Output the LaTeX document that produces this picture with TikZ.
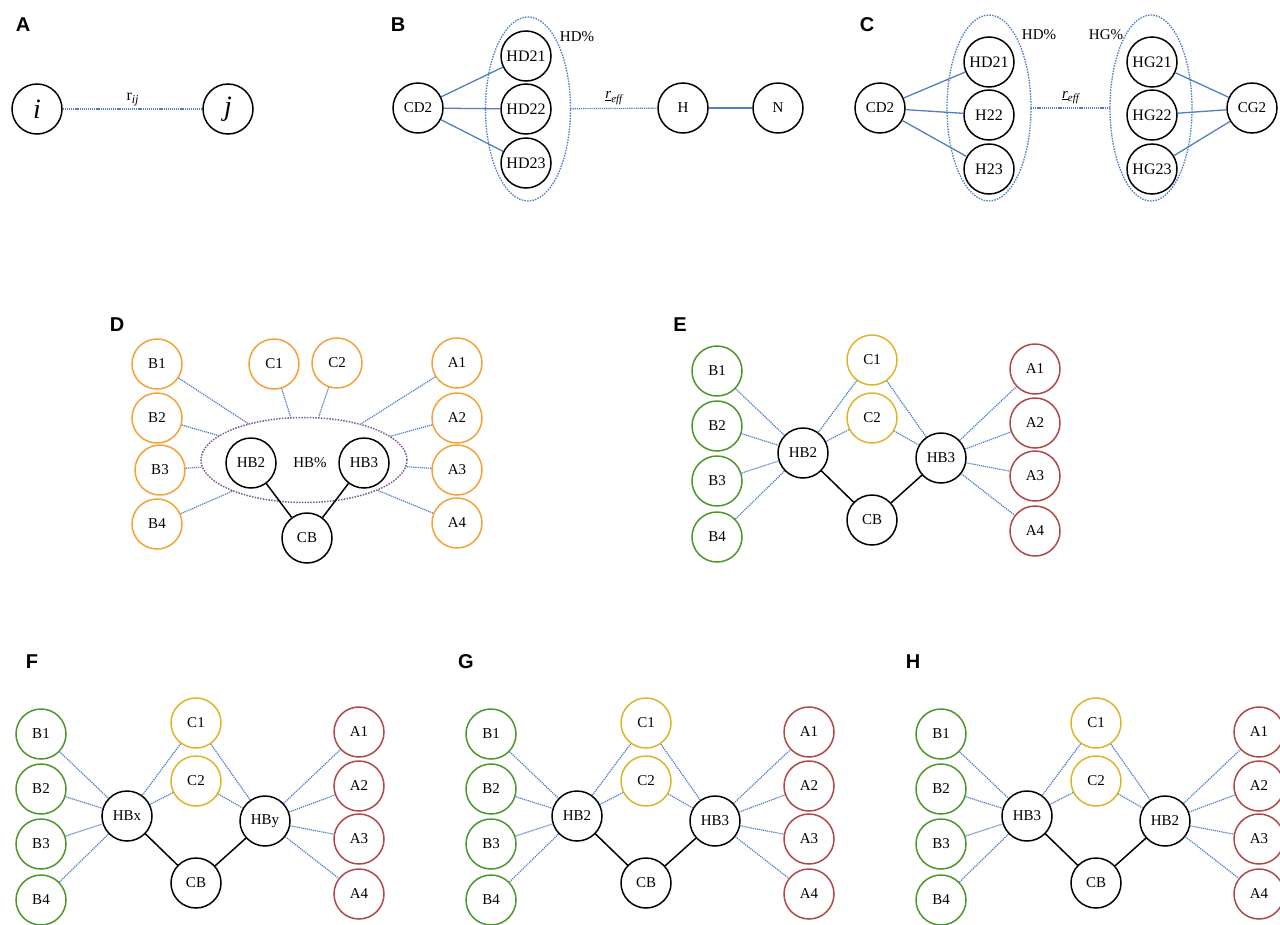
\documentclass[tikz,border=0pt]{standalone}
\usepackage{fontspec}
\setmainfont{Liberation Serif}
\newfontfamily\labfont{Liberation Sans}
\usetikzlibrary{shapes.geometric}
\definecolor{dblue}{HTML}{4A7FC8}
\definecolor{sblue}{HTML}{5080C0}
\definecolor{orgc}{HTML}{F5A23A}
\definecolor{grnc}{HTML}{4E962C}
\definecolor{yelc}{HTML}{DDB52A}
\definecolor{redc}{HTML}{B04848}
\definecolor{purc}{HTML}{7A5C9A}
\tikzset{
  bnode/.style={circle, draw=black, line width=1.5pt, minimum size=50pt, inner sep=0pt, fill=white, font=\fontsize{15}{18}\selectfont},
  onode/.style={bnode, draw=orgc},
  gnode/.style={bnode, draw=grnc},
  ynode/.style={bnode, draw=yelc},
  rnode/.style={bnode, draw=redc},
  dotline/.style={draw=dblue, line width=1.2pt, dash pattern=on 1.2pt off 0.9pt},
  solidblue/.style={draw=sblue, line width=1.3pt},
  blackline/.style={draw=black, line width=1.5pt},
  grp/.style={ellipse, draw=dblue, line width=1.3pt, dash pattern=on 1.5pt off 1.2pt, inner sep=0pt, outer sep=0pt},
  panlab/.style={font=\fontsize{20}{24}\selectfont\labfont\bfseries},
  txt/.style={font=\fontsize{15}{18}\selectfont, inner sep=1pt}
}
\newcommand\hbpanel[5]{%
  \begin{scope}[shift={(#2,#3)}]
    \node[gnode] (#1B1) at (717,371) {B1};
    \node[gnode] (#1B2) at (717,426) {B2};
    \node[gnode] (#1B3) at (717,481) {B3};
    \node[gnode] (#1B4) at (717,537) {B4};
    \node[ynode] (#1C1) at (872,360) {C1};
    \node[ynode] (#1C2) at (872,418) {C2};
    \node[bnode] (#1L) at (803,453) {#4};
    \node[bnode] (#1R) at (941,458) {#5};
    \node[bnode] (#1CB) at (872,520) {CB};
    \node[rnode] (#1A1) at (1035,369) {A1};
    \node[rnode] (#1A2) at (1035,423) {A2};
    \node[rnode] (#1A3) at (1035,476) {A3};
    \node[rnode] (#1A4) at (1035,531) {A4};
    \foreach \k in {1,2,3,4} {
      \draw[dotline] (#1B\k) -- (#1L);
      \draw[dotline] (#1R) -- (#1A\k);
    }
    \draw[dotline] (#1C1) -- (#1L);
    \draw[dotline] (#1C2) -- (#1L);
    \draw[dotline] (#1C1) -- (#1R);
    \draw[dotline] (#1C2) -- (#1R);
    \draw[blackline] (#1L) -- (#1CB);
    \draw[blackline] (#1R) -- (#1CB);
  \end{scope}}
\begin{document}
\begin{tikzpicture}[x=1pt, y=-1pt]
\clip (0,0) rectangle (1280,924);
\fill[white] (0,0) rectangle (1280,924);

% ---------- Panel A ----------
\node[panlab] (labA) at (23,25) {A};
\node[bnode, font=\fontsize{28}{30}\selectfont\itshape] (ni) at (37,109) {i};
\node[bnode, font=\fontsize{28}{30}\selectfont\itshape] (nj) at (228,109) {j};
\draw[dotline] (ni) -- node[midway, above=-1pt, font=\fontsize{16}{18}\selectfont] {r\raisebox{-0.35ex}{\fontsize{12}{12}\selectfont\itshape ij}} (nj);

% ---------- Panel B ----------
\node[panlab] (labB) at (398,25) {B};
\node[grp, minimum width=85pt, minimum height=184pt] (ellB) at (528,109) {};
\node[bnode] (bCD2) at (418,108) {CD2};
\node[bnode, font=\fontsize{16}{18}\selectfont] (bHD21) at (526,56) {HD21};
\node[bnode, font=\fontsize{16}{18}\selectfont] (bHD22) at (526,109) {HD22};
\node[bnode, font=\fontsize{16}{18}\selectfont] (bHD23) at (526,163) {HD23};
\node[txt] (bHDp) at (577,37) {HD\%};
\node[bnode] (bH) at (683,108) {H};
\node[bnode] (bN) at (778,108) {N};
\draw[solidblue] (bCD2) -- (bHD21);
\draw[solidblue] (bCD2) -- (bHD22);
\draw[solidblue] (bCD2) -- (bHD23);
\draw[solidblue] (bH) -- (bN);
\draw[dotline] (ellB) -- node[midway, above=0pt, font=\fontsize{15}{18}\selectfont] {\underline{\itshape r}\raisebox{-0.5ex}{\fontsize{11}{12}\selectfont\itshape eff}} (bH);

% ---------- Panel C ----------
\node[panlab] (labC) at (867,25) {C};
\node[grp, minimum width=84pt, minimum height=186pt] (ellC1) at (989,108) {};
\node[grp, minimum width=82pt, minimum height=186pt] (ellC2) at (1151,108) {};
\node[bnode] (cCD2) at (880,108) {CD2};
\node[bnode, font=\fontsize{16}{18}\selectfont] (cHD21) at (989,62) {HD21};
\node[bnode, font=\fontsize{16}{18}\selectfont] (cH22) at (989,115) {H22};
\node[bnode, font=\fontsize{16}{18}\selectfont] (cH23) at (989,169) {H23};
\node[bnode, font=\fontsize{16}{18}\selectfont] (cHG21) at (1152,62) {HG21};
\node[bnode, font=\fontsize{16}{18}\selectfont] (cHG22) at (1152,115) {HG22};
\node[bnode, font=\fontsize{16}{18}\selectfont] (cHG23) at (1152,169) {HG23};
\node[bnode] (cCG2) at (1252,108) {CG2};
\node[txt] (cHDp) at (1039,35) {HD\%};
\node[txt] (cHGp) at (1106,35) {HG\%};
\draw[solidblue] (cCD2) -- (cHD21);
\draw[solidblue] (cCD2) -- (cH22);
\draw[solidblue] (cCD2) -- (cH23);
\draw[solidblue] (cCG2) -- (cHG21);
\draw[solidblue] (cCG2) -- (cHG22);
\draw[solidblue] (cCG2) -- (cHG23);
\draw[dotline] (ellC1) -- node[midway, above=0pt, font=\fontsize{15}{18}\selectfont] {\underline{\itshape r}\raisebox{-0.5ex}{\fontsize{11}{12}\selectfont\itshape eff}} (ellC2);

% ---------- Panel D ----------
\node[panlab] (labD) at (117,325) {D};
\node[ellipse, draw=purc, line width=1.5pt, dash pattern=on 1.5pt off 1.3pt, inner sep=0pt, outer sep=0pt, minimum width=206pt, minimum height=85pt] (ellD) at (304,460) {};
\node[onode] (dB1) at (157,364) {B1};
\node[onode] (dB2) at (157,418) {B2};
\node[onode] (dB3) at (160,470) {B3};
\node[onode] (dB4) at (157,524) {B4};
\node[onode] (dC1) at (274,364) {C1};
\node[onode] (dC2) at (337,363) {C2};
\node[onode] (dA1) at (457,363) {A1};
\node[onode] (dA2) at (457,418) {A2};
\node[onode] (dA3) at (457,470) {A3};
\node[onode] (dA4) at (457,523) {A4};
\node[bnode] (dHB2) at (251,463) {HB2};
\node[bnode] (dHB3) at (364,463) {HB3};
\node[txt] (dHBp) at (310,463) {HB\%};
\node[bnode] (dCB) at (307,538) {CB};
\foreach \n in {dB1,dB2,dB3,dB4,dC1,dC2,dA1,dA2,dA3,dA4} {\draw[dotline] (\n) -- (ellD);}
\draw[blackline] (dHB2) -- (dCB);
\draw[blackline] (dHB3) -- (dCB);

% ---------- Panels E to H ----------
\node[panlab] (labE) at (680,325) {E};
\hbpanel{e}{0}{0}{HB2}{HB3}
\node[panlab] (labF) at (32,662) {F};
\hbpanel{f}{-676}{363}{HBx}{HBy}
\node[panlab] (labG) at (466,662) {G};
\hbpanel{g}{-226}{363}{HB2}{HB3}
\node[panlab] (labH) at (913,662) {H};
\hbpanel{h}{224}{363}{HB3}{HB2}
\end{tikzpicture}
\end{document}
